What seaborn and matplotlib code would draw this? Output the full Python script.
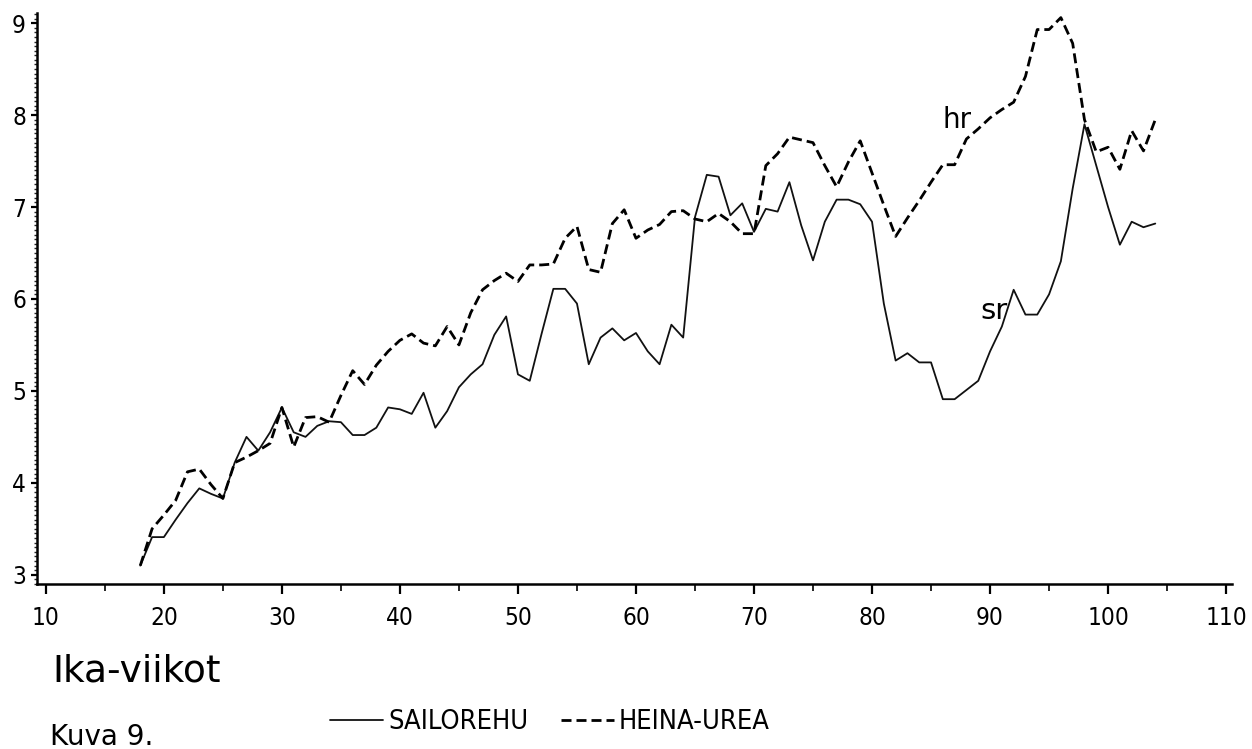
import numpy as np
import pandas as pd
import matplotlib
matplotlib.use("Agg")
import matplotlib.pyplot as plt
import matplotlib.font_manager as fm
from matplotlib.lines import Line2D
from matplotlib.ticker import MultipleLocator
import seaborn as sns

# ---------------- data ----------------
weeks = list(range(18, 105))  # age in weeks

heina_urea = [  # "hr" dashed
    3.10, 3.50, 3.65, 3.81, 4.12, 4.15, 3.98, 3.83, 4.22, 4.28,
    4.35, 4.43, 4.82, 4.39, 4.71, 4.72, 4.66, 4.95, 5.22, 5.07,
    5.28, 5.43, 5.55, 5.62, 5.52, 5.49, 5.70, 5.50, 5.85, 6.10,
    6.20, 6.28, 6.19, 6.37, 6.37, 6.38, 6.66, 6.79, 6.32, 6.29,
    6.82, 6.97, 6.66, 6.75, 6.81, 6.95, 6.96, 6.87, 6.84, 6.93,
    6.84, 6.71, 6.71, 7.45, 7.58, 7.76, 7.73, 7.70, 7.45, 7.22,
    7.49, 7.72, 7.37, 7.02, 6.68, 6.88, 7.07, 7.27, 7.46, 7.46,
    7.74, 7.85, 7.97, 8.06, 8.14, 8.42, 8.93, 8.93, 9.06, 8.78,
    7.95, 7.60, 7.65, 7.41, 7.83, 7.61, 7.95,
]

sailorehu = [  # "sr" thin solid
    3.10, 3.41, 3.41, 3.60, 3.78, 3.94, 3.88, 3.83, 4.22, 4.50,
    4.35, 4.55, 4.82, 4.55, 4.50, 4.62, 4.67, 4.66, 4.52, 4.52,
    4.60, 4.82, 4.80, 4.75, 4.98, 4.60, 4.78, 5.04, 5.18, 5.29,
    5.61, 5.81, 5.18, 5.11, 5.62, 6.11, 6.11, 5.95, 5.29, 5.58,
    5.68, 5.55, 5.63, 5.43, 5.29, 5.72, 5.58, 6.89, 7.35, 7.33,
    6.91, 7.04, 6.73, 6.98, 6.95, 7.27, 6.80, 6.42, 6.84, 7.08,
    7.08, 7.03, 6.84, 5.95, 5.33, 5.41, 5.31, 5.31, 4.91, 4.91,
    5.01, 5.11, 5.43, 5.70, 6.10, 5.83, 5.83, 6.05, 6.41, 7.20,
    7.90, 7.45, 7.00, 6.59, 6.84, 6.78, 6.82,
]

series_names = ["SAILOREHU", "HEINA-UREA"]
x_ticks = [10, 20, 30, 40, 50, 60, 70, 80, 90, 100, 110]
y_ticks = [3, 4, 5, 6, 7, 8, 9]
x_label = "Ika-viikot"
caption = "Kuva 9."

# ---------------- styling ----------------
sns.set_style("ticks")
plt.rcParams["font.family"] = ["DejaVu Sans"]
plt.rcParams["text.color"] = "black"

names = {f.name for f in fm.fontManager.ttflist}
if "Liberation Sans Narrow" in names:
    narrow = fm.FontProperties(family="Liberation Sans Narrow")
else:
    narrow = fm.FontProperties(family="DejaVu Sans", stretch="condensed")

df = pd.DataFrame({
    "week": weeks * 2,
    "value": sailorehu + heina_urea,
    "series": [series_names[0]] * len(weeks) + [series_names[1]] * len(weeks),
})

fig = plt.figure(figsize=(12.52, 7.49), dpi=100)
ax = fig.add_axes([37 / 1252, 165 / 749, (1232 - 37) / 1252, (584 - 13) / 749])

line_w = {"SAILOREHU": 1.3, "HEINA-UREA": 2.0}
dash_map = {"SAILOREHU": "", "HEINA-UREA": (3.6, 1.8)}

sns.lineplot(
    data=df, x="week", y="value", hue="series", style="series",
    size="series", sizes=line_w, dashes=dash_map,
    palette={"SAILOREHU": "#111111", "HEINA-UREA": "#000000"},
    estimator=None, sort=False, legend=False, ax=ax,
)

ax.set_xlim(9.25, 110.5)
ax.set_ylim(2.9, 9.11)
ax.set_xlabel("")
ax.set_ylabel("")

for side in ["top", "right"]:
    ax.spines[side].set_visible(False)
for side in ["left", "bottom"]:
    ax.spines[side].set_linewidth(1.8)
    ax.spines[side].set_color("black")

ax.set_xticks(x_ticks)
ax.set_xticklabels([str(t) for t in x_ticks])
ax.xaxis.set_minor_locator(MultipleLocator(5))
ax.set_yticks(y_ticks)
ax.set_yticklabels([str(t) for t in y_ticks])
ax.yaxis.set_minor_locator(MultipleLocator(0.05))

ax.tick_params(axis="x", which="major", direction="out", length=7, width=1.6,
               pad=9, colors="black")
ax.tick_params(axis="x", which="minor", direction="out", length=5, width=1.4)
ax.tick_params(axis="y", which="major", direction="out", length=4.5, width=1.6,
               pad=3.5, colors="black")
ax.tick_params(axis="y", which="minor", direction="out", length=2.2, width=1.0)

for lab in ax.get_xticklabels() + ax.get_yticklabels():
    lab.set_fontproperties(narrow)
    lab.set_fontsize(17.5)
    lab.set_color("black")

# in-plot series labels
ax.text(87.2, 7.95, "hr", fontsize=20, ha="center", va="center",
        family="DejaVu Sans", color="black")
ax.text(90.3, 5.87, "sr", fontsize=21, ha="center", va="center",
        family="DejaVu Sans", color="black")

# x-axis title and caption (below the axis, left aligned)
fig.text(52 / 1252, 1 - 682 / 749, x_label, fontsize=27, ha="left", va="baseline",
         family="DejaVu Sans", color="black")
fig.text(50 / 1252, 1 - 745 / 749, caption, fontsize=20, ha="left", va="baseline",
         family="DejaVu Sans", color="black")

# legend
handles = [
    Line2D([], [], color="#111111", lw=line_w["SAILOREHU"], linestyle="-"),
    Line2D([], [], color="black", lw=line_w["HEINA-UREA"],
           linestyle=(0, dash_map["HEINA-UREA"])),
]
leg_font = narrow.copy()
leg_font.set_size(19.5)
leg = fig.legend(handles, series_names, loc="center left",
                 bbox_to_anchor=(330 / 1252, 1 - 722 / 749), ncol=2, frameon=False,
                 handlelength=1.95, handletextpad=0.2, columnspacing=1.2,
                 borderpad=0, borderaxespad=0, prop=leg_font)
for t in leg.get_texts():
    t.set_color("black")

fig.savefig("out.png", dpi=100, facecolor="white")
